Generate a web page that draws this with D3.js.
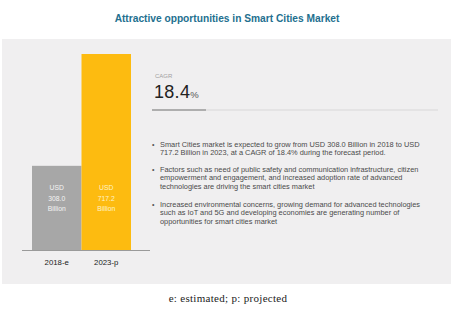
<!DOCTYPE html>
<html>
<head>
<meta charset="utf-8">
<script src="https://cdn.jsdelivr.net/npm/d3@7"></script>
<style>
  body { margin: 0; background: #fff; }
  svg { display: block; font-family: "Liberation Sans", Arial, sans-serif; }
</style>
</head>
<body>
<script>
// data
var years = ["2018-e", "2023-p"];
var values = [308.0, 717.2];
var barColors = ["#a7a7a7", "#fdbb10"];
var cagr = "18.4";
var bullets = [
  ["Smart Cities market is expected to grow from USD 308.0 Billion in 2018 to USD",
   "717.2 Billion in 2023, at a CAGR of 18.4% during the forecast period."],
  ["Factors such as need of public safety and communication infrastructure, citizen",
   "empowerment and engagement, and increased adoption rate of advanced",
   "technologies are driving the smart cities market"],
  ["Increased environmental concerns, growing demand for advanced technologies",
   "such as IoT and 5G and developing economies are generating number of",
   "opportunities for smart cities market"]
];

var W = 461, H = 315;

var svg = d3.select("body").append("svg")
    .attr("width", W)
    .attr("height", H);

// title
svg.append("text")
    .attr("x", 227).attr("y", 22)
    .attr("text-anchor", "middle")
    .style("font-size", "10.2px")
    .style("font-weight", "bold")
    .style("fill", "#23708f")
    .text("Attractive opportunities in Smart Cities Market");

// panel
svg.append("rect")
    .attr("x", 2).attr("y", 39)
    .attr("width", 449).attr("height", 245)
    .attr("fill", "#f0eff0");

// bars
var x = d3.scaleBand(years, [32, 131]).paddingInner(0).paddingOuter(0);
var y = d3.scaleLinear([0, 717.2], [250, 54]);

svg.selectAll(".bar")
    .data(values)
  .enter().append("rect")
    .attr("class", "bar")
    .attr("x", function(d, i) { return x(years[i]); })
    .attr("width", x.bandwidth())
    .attr("y", function(d) { return y(d); })
    .attr("height", function(d) { return y(0) - y(d); })
    .attr("fill", function(d, i) { return barColors[i]; });

var lbl = svg.selectAll(".blabel")
    .data(values)
  .enter().append("text")
    .attr("class", "blabel")
    .attr("text-anchor", "middle")
    .style("font-size", "6.8px")
    .style("fill", function(d, i) { return i == 0 ? "#f4f4f4" : "#fff3c8"; });

lbl.each(function(d, i) {
  var t = d3.select(this);
  var cx = x(years[i]) + x.bandwidth() / 2;
  ["USD", d.toFixed(1), "Billion"].forEach(function(s, k) {
    t.append("tspan").attr("x", cx).attr("y", 190 + k * 10.5).text(s);
  });
});

// x axis
var xAxis = svg.append("g")
    .attr("transform", "translate(0,250)")
    .call(d3.axisBottom(x).tickSize(0).tickPadding(9));
xAxis.select(".domain").remove();
svg.append("line")
    .attr("x1", 22).attr("x2", 150)
    .attr("y1", 250.5).attr("y2", 250.5)
    .attr("stroke", "#9a9a9a");
xAxis.selectAll("text")
    .style("font-size", "7.8px")
    .style("font-family", "'Liberation Sans', Arial, sans-serif")
    .style("fill", "#222");

// CAGR block
svg.append("text")
    .attr("x", 155).attr("y", 78)
    .style("font-size", "6px")
    .style("fill", "#a0a0a0")
    .text("CAGR");

var cg = svg.append("text")
    .attr("x", 154).attr("y", 98)
    .style("fill", "#222");
cg.append("tspan").style("font-size", "18px").style("letter-spacing", "0.3px").text(cagr);
cg.append("tspan").style("font-size", "9.5px").style("fill", "#555").text("%");

svg.append("line")
    .attr("x1", 152).attr("x2", 438)
    .attr("y1", 110).attr("y2", 110)
    .attr("stroke", "#d2d2d2").attr("stroke-width", 0.8);
svg.append("line")
    .attr("x1", 152).attr("x2", 206)
    .attr("y1", 110).attr("y2", 110)
    .attr("stroke", "#9c9c9c").attr("stroke-width", 1.6);

// bullets
var starts = [146.5, 171.5, 206.5];
bullets.forEach(function(lines, b) {
  svg.append("text")
    .attr("x", 152).attr("y", starts[b])
    .style("font-size", "7px")
    .style("fill", "#555")
    .text("\u2022");
  lines.forEach(function(s, k) {
    svg.append("text")
      .attr("x", 160).attr("y", starts[b] + k * 8.7)
      .style("font-size", "7.4px")
      .style("fill", "#4a4a4a")
      .text(s);
  });
});

// footnote
svg.append("text")
    .attr("x", 228).attr("y", 302)
    .attr("text-anchor", "middle")
    .style("font-family", "'Liberation Serif', 'Times New Roman', serif")
    .style("font-size", "11px")
    .style("letter-spacing", "0.3px")
    .style("fill", "#222")
    .text("e: estimated; p: projected");
</script>
</body>
</html>
